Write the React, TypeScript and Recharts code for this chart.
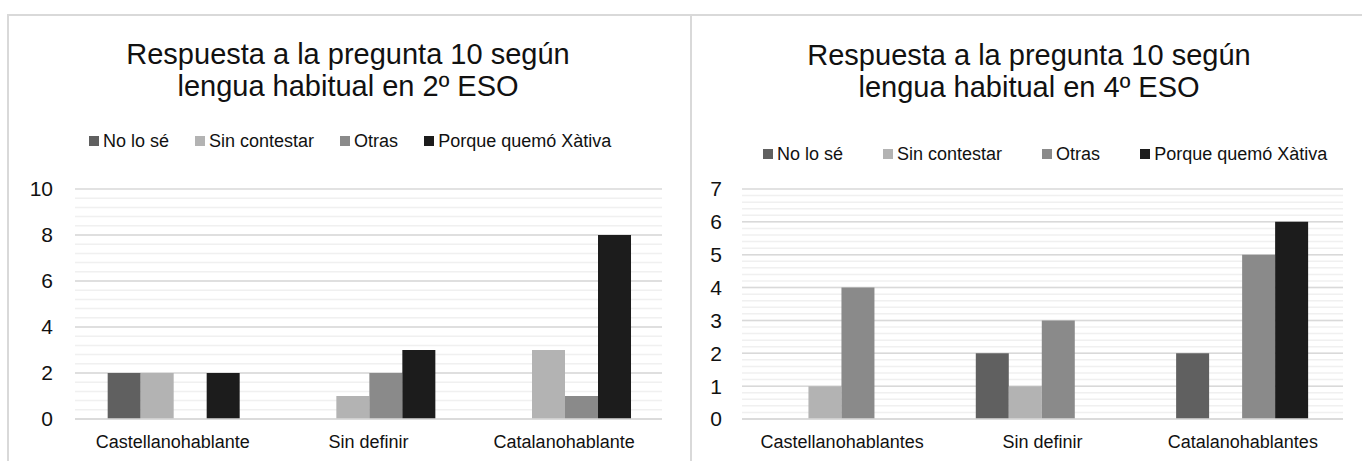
import React from 'react';
import { BarChart, Bar, XAxis, YAxis, CartesianGrid } from 'recharts';

// 2º ESO
const CATEGORIES_2ESO = ['Castellanohablante', 'Sin definir', 'Catalanohablante'];
const NO_LO_SE_2ESO = [2, 0, 0];
const SIN_CONTESTAR_2ESO = [2, 1, 3];
const OTRAS_2ESO = [0, 2, 1];
const XATIVA_2ESO = [2, 3, 8];
const TICKS_2ESO = [0, 2, 4, 6, 8, 10];

// 4º ESO
const CATEGORIES_4ESO = ['Castellanohablantes', 'Sin definir', 'Catalanohablantes'];
const NO_LO_SE_4ESO = [0, 2, 2];
const SIN_CONTESTAR_4ESO = [1, 1, 0];
const OTRAS_4ESO = [4, 3, 5];
const XATIVA_4ESO = [0, 0, 6];
const TICKS_4ESO = [0, 1, 2, 3, 4, 5, 6, 7];

const SERIES = [
  { key: 'noLoSe', name: 'No lo sé', color: '#606060' },
  { key: 'sinContestar', name: 'Sin contestar', color: '#b3b3b3' },
  { key: 'otras', name: 'Otras', color: '#8a8a8a' },
  { key: 'xativa', name: 'Porque quemó Xàtiva', color: '#1c1c1c' },
];

const FONT = '"Liberation Sans", Arial, sans-serif';

function buildRows(cats: string[], a: number[], b: number[], c: number[], d: number[]) {
  return cats.map((cat, i) => ({
    cat,
    noLoSe: a[i],
    sinContestar: b[i],
    otras: c[i],
    xativa: d[i],
  }));
}

// minor gridline positions between the major ticks
function minorValues(max: number, step: number) {
  const out: number[] = [];
  for (let v = step; v < max - 1e-6; v += step) out.push(Math.round(v * 100) / 100);
  return out;
}

const data2 = buildRows(CATEGORIES_2ESO, NO_LO_SE_2ESO, SIN_CONTESTAR_2ESO, OTRAS_2ESO, XATIVA_2ESO);
const data4 = buildRows(CATEGORIES_4ESO, NO_LO_SE_4ESO, SIN_CONTESTAR_4ESO, OTRAS_4ESO, XATIVA_4ESO);

function Title({ lines, center, top }: { lines: string[]; center: number; top: number }) {
  return (
    <div
      style={{
        position: 'absolute',
        left: center - 300,
        width: 600,
        top,
        textAlign: 'center',
        fontSize: 29,
        lineHeight: '32px',
        color: '#111',
        fontFamily: FONT,
      }}
    >
      {lines.map((l) => (
        <div key={l}>{l}</div>
      ))}
    </div>
  );
}

function Legend({ left, top, gap }: { left: number; top: number; gap: number }) {
  return (
    <div
      style={{
        position: 'absolute',
        left,
        top,
        display: 'flex',
        gap,
        alignItems: 'center',
        fontSize: 18,
        lineHeight: '20px',
        color: '#111',
        fontFamily: FONT,
        whiteSpace: 'nowrap',
      }}
    >
      {SERIES.map((s) => (
        <div key={s.key} style={{ display: 'flex', alignItems: 'center' }}>
          <span style={{ width: 10, height: 10, background: s.color, marginRight: 4 }} />
          <span>{s.name}</span>
        </div>
      ))}
    </div>
  );
}

function Chart({
  data,
  left,
  width,
  yWidth,
  marginRight,
  max,
  ticks,
  minorStep,
  yTickMargin,
}: {
  data: any[];
  left: number;
  width: number;
  yWidth: number;
  marginRight: number;
  max: number;
  ticks: number[];
  minorStep: number;
  yTickMargin: number;
}) {
  return (
    <div style={{ position: 'absolute', left, top: 0 }}>
      <BarChart
        width={width}
        height={461}
        data={data}
        margin={{ top: 189, right: marginRight, bottom: 12, left: 0 }}
        barCategoryGap="16.7%"
        barGap={0}
      >
        <CartesianGrid
          vertical={false}
          horizontalValues={minorValues(max, minorStep)}
          stroke="#f0f0f0"
          strokeWidth={1.5}
        />
        <CartesianGrid vertical={false} horizontalValues={ticks} stroke="#d9d9d9" strokeWidth={1.5} />
        <XAxis
          dataKey="cat"
          height={30}
          tickLine={false}
          tickMargin={10}
          axisLine={{ stroke: '#d9d9d9', strokeWidth: 1.5 }}
          tick={{ fontSize: 18, fill: '#111', fontFamily: FONT }}
        />
        <YAxis
          width={yWidth}
          domain={[0, max]}
          ticks={ticks}
          interval={0}
          axisLine={false}
          tickLine={false}
          tickMargin={yTickMargin}
          tick={{ fontSize: 21, fill: '#111', fontFamily: FONT }}
        />
        {SERIES.map((s) => (
          <Bar key={s.key} dataKey={s.key} name={s.name} fill={s.color} isAnimationActive={false} />
        ))}
      </BarChart>
    </div>
  );
}

export default function App() {
  return (
    <div
      style={{
        position: 'absolute',
        left: 0,
        top: 0,
        width: 1362,
        height: 461,
        overflow: 'hidden',
        background: '#fff',
        fontFamily: FONT,
      }}
    >
      {/* chart frames */}
      <div
        style={{
          position: 'absolute',
          left: 7,
          top: 14,
          width: 685,
          height: 470,
          boxSizing: 'border-box',
          border: '2px solid #d9d9d9',
        }}
      />
      <div
        style={{
          position: 'absolute',
          left: 692,
          top: 14,
          width: 700,
          height: 470,
          boxSizing: 'border-box',
          borderTop: '2px solid #d9d9d9',
        }}
      />

      <Title lines={['Respuesta a la pregunta 10 según', 'lengua habitual en 2º ESO']} center={348} top={38} />
      <Title lines={['Respuesta a la pregunta 10 según', 'lengua habitual en 4º ESO']} center={1029} top={39} />

      <Legend left={89} top={131} gap={26} />
      <Legend left={763} top={144} gap={40} />

      <Chart
        data={data2}
        left={0}
        width={690}
        yWidth={75}
        marginRight={28}
        max={10}
        ticks={TICKS_2ESO}
        minorStep={0.4}
        yTickMargin={16}
      />
      <Chart
        data={data4}
        left={690}
        width={672}
        yWidth={52}
        marginRight={19}
        max={7}
        ticks={TICKS_4ESO}
        minorStep={0.2}
        yTickMargin={14}
      />
    </div>
  );
}
